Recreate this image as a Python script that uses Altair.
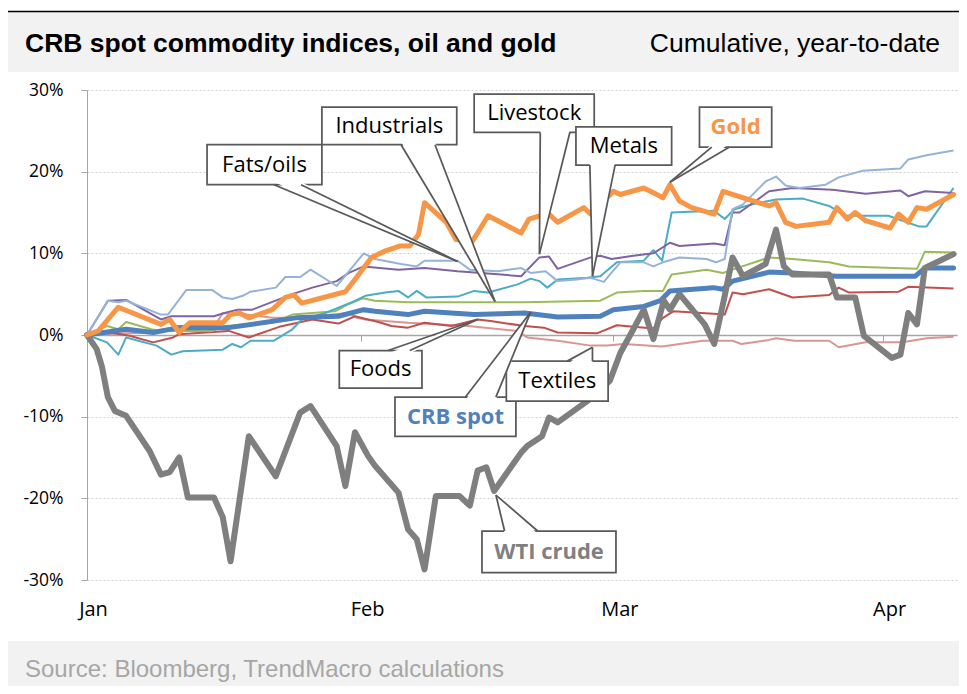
import altair as alt
import pandas as pd

# x = days since 31 Dec 2015, y = cumulative % change year-to-date
wti_day = [0, 1.1, 1.7, 2.4, 3.2, 4.5, 7.2, 8.5, 9.5, 10.6, 11.6, 14.6, 15.6, 16.5, 18.6, 21.7, 24.5, 25.7, 28.7, 29.7,
           30.8, 32.3, 33.1, 35.8, 36.9, 37.9, 38.8, 40.1, 42.8, 44.0, 44.9, 45.9, 46.8, 49.9, 50.6, 52.3, 53.1, 54.1,
           57.5, 60.1, 61.3, 62.8, 64.0, 65.1, 66.3, 67.0, 68.1, 71.0, 72.1, 73.3, 74.2, 75.4, 78.0, 79.2, 80.1, 81.1,
           85.3, 86.2, 88.3, 89.3, 92.5, 93.5, 94.4, 95.4, 96.3, 99.6]
wti_val = [0, -1.7, -3.8, -7.6, -9.3, -9.9, -14.2, -17.1, -16.8, -15.0, -19.9, -19.9, -22.3, -27.7, -12.4, -17.3, -9.5,
           -8.7, -13.6, -18.5, -11.9, -14.8, -16.0, -19.3, -23.8, -25.0, -28.7, -19.7, -19.7, -20.9, -16.6, -16.2,
           -19.1, -14.4, -13.6, -12.4, -10.1, -10.7, -8.1, -5.6, -2.2, 0.7, 3.1, -0.5, 4.2, 3.1, 5.0, 1.3, -1.1, 4.8,
           9.5, 7.2, 8.7, 12.9, 8.4, 7.4, 7.4, 4.6, 4.6, -0.1, -2.8, -2.4, 2.7, 1.3, 8.2, 9.9]

gold_day = [0, 1.3, 3.6, 8.5, 9.5, 10.6, 11.8, 15.6, 16.5, 17.5, 18.6, 21.3, 22.8, 23.8, 24.7, 29.7, 30.8, 32.7, 34.3,
            36.0, 37.1, 38.1, 38.8, 41.3, 42.4, 44.3, 44.9, 46.1, 49.9, 50.8, 52.0, 53.1, 54.1, 57.1, 57.9, 60.5, 61.3,
            64.0, 65.5, 66.2, 67.0, 68.1, 69.5, 72.1, 73.1, 78.4, 79.2, 80.3, 81.5, 85.3, 86.2, 87.4, 88.3, 89.5,
            92.3, 93.3, 94.4, 95.4, 96.5, 99.6]
gold_val = [0, 0.5, 3.4, 1.3, 1.9, 0.3, 1.5, 1.5, 2.5, 2.7, 2.1, 3.1, 4.6, 4.9, 3.9, 5.3, 6.8, 9.5, 10.3, 10.9, 10.9,
            12.3, 16.2, 13.8, 11.7, 11.5, 12.5, 14.6, 12.5, 14.2, 14.6, 14.8, 13.8, 15.6, 14.8, 17.6, 17.2, 18.0, 17.2,
            16.8, 18.4, 16.4, 15.6, 14.8, 17.6, 15.8, 16.2, 13.8, 13.3, 13.8, 15.6, 14.2, 15.0, 14.0, 13.1, 14.8,
            13.8, 15.6, 15.4, 17.2]

crb_day = [0, 4.5, 7.6, 10.6, 16.3, 24.0, 28.9, 31.8, 33.1, 36.9, 38.8, 44.5, 50.3, 54.1, 59.0, 60.5, 64.0, 65.9,
           67.0, 72.0, 73.1, 74.2, 78.4, 81.1, 86.1, 95.2, 96.3, 99.6]
crb_val = [0, 0.7, 0.3, 0.9, 0.9, 2.1, 2.3, 3.1, 2.9, 2.5, 2.9, 2.5, 2.7, 2.2, 2.3, 3.1, 3.5, 4.2, 5.4, 5.8, 5.6, 6.6,
           7.7, 7.6, 7.2, 7.2, 8.2, 8.2]

fats_day = [0, 2.4, 3.6, 4.5, 8.5, 9.3, 11.4, 14.4, 15.6, 16.7, 17.9, 18.8, 21.7, 22.8, 24.5, 25.7, 28.7, 30.1, 31.8,
            33.1, 36.1, 37.9, 38.8, 42.6, 44.0, 47.2, 49.9, 51.0, 52.7, 54.1, 56.3, 57.9, 59.4, 61.3, 64.0, 65.1,
            66.2, 68.1, 71.2, 72.3, 73.3, 74.2, 75.4, 78.0, 79.2, 80.3, 81.9, 84.9, 86.4, 89.1, 93.5, 94.4, 96.5, 99.6]
fats_val = [0, 4.2, 4.0, 4.2, 2.5, 2.5, 5.5, 5.5, 4.6, 4.4, 4.8, 5.3, 5.8, 7.1, 7.1, 8.0, 6.0, 7.8, 10.0, 9.3, 8.7,
            8.4, 9.1, 9.1, 8.0, 7.8, 8.2, 7.6, 7.8, 6.6, 6.8, 7.0, 6.5, 8.9, 8.9, 8.4, 8.9, 9.5, 9.3, 8.9, 9.3, 15.4,
            16.0, 18.8, 19.4, 18.3, 18.0, 18.4, 19.3, 20.1, 20.4, 21.5, 22.0, 22.6]

live_day = [0, 2.4, 4.5, 8.5, 9.7, 14.6, 15.8, 17.3, 19.0, 23.6, 25.9, 28.7, 30.1, 31.8, 35.8, 38.8, 42.6, 47.6,
            49.9, 52.0, 53.1, 54.1, 57.9, 59.0, 60.3, 62.8, 65.1, 67.0, 68.1, 72.1, 73.3, 74.2, 75.0, 78.4, 81.1,
            85.7, 89.5, 93.5, 94.4, 96.3, 99.6]
live_val = [0, 4.2, 4.3, 1.9, 2.3, 2.3, 2.7, 3.1, 3.1, 5.0, 5.8, 6.6, 7.6, 8.4, 8.0, 8.2, 7.8, 7.4, 7.2, 9.5, 9.6,
            8.1, 9.5, 9.7, 9.3, 9.7, 10.0, 11.3, 10.9, 11.2, 11.0, 15.0, 15.0, 17.6, 18.0, 17.8, 17.3, 17.7, 17.0,
            17.6, 17.4]

metals_day = [0, 2.3, 3.6, 4.5, 8.0, 9.7, 11.0, 15.6, 16.7, 17.7, 18.8, 21.5, 23.6, 24.7, 27.4, 30.4, 32.0, 34.3,
              35.8, 36.9, 37.9, 39.0, 42.6, 44.5, 46.1, 49.5, 51.0, 52.0, 52.9, 54.1, 57.5, 59.0, 60.9, 64.0, 65.1,
              66.1, 67.2, 72.1, 73.3, 74.4, 76.5, 79.2, 82.3, 85.3, 87.2, 92.1, 95.6, 96.5, 99.6]
metals_val = [0, -0.9, -2.4, -0.3, -1.3, -2.4, -2.0, -1.8, -1.1, -1.5, -0.7, -0.7, 0.7, 1.9, 2.7, 4.0, 4.8, 5.2,
              5.4, 4.6, 5.4, 4.6, 4.7, 5.4, 5.2, 6.2, 6.9, 6.6, 5.8, 6.8, 7.0, 7.2, 8.9, 9.1, 10.4, 9.1, 15.0, 15.2,
              14.2, 15.4, 16.0, 16.6, 16.7, 15.8, 14.6, 14.6, 13.3, 13.3, 18.0]

ind_day = [0, 2.3, 3.6, 4.5, 7.4, 8.5, 14.4, 16.0, 17.9, 21.3, 23.6, 25.9, 28.5, 30.1, 31.7, 33.1, 36.9, 43.8, 50.3,
           59.0, 60.9, 64.0, 66.2, 67.2, 71.2, 73.1, 74.2, 78.4, 81.1, 85.3, 87.6, 95.4, 96.3, 99.6]
ind_val = [0, 1.1, 0.7, 1.6, 0.7, 0.5, 0.5, 1.1, 1.3, 1.5, 2.5, 2.7, 2.9, 3.8, 4.5, 4.2, 4.0, 4.0, 4.0, 4.2, 5.2, 5.4,
           5.4, 7.4, 8.0, 7.6, 8.0, 9.5, 9.3, 8.9, 8.4, 8.1, 10.2, 10.1]

foods_day = [0, 2.6, 4.9, 7.6, 9.9, 10.6, 16.3, 18.6, 22.1, 25.9, 28.9, 30.8, 32.3, 33.5, 35.0, 36.9, 38.8, 41.9,
             44.9, 46.4, 50.3, 52.5, 54.1, 58.6, 60.9, 65.1, 66.2, 67.4, 72.0, 73.3, 74.2, 75.4, 78.4, 81.1, 85.3,
             86.4, 87.6, 93.3, 94.4, 99.6]
foods_val = [0, 0.3, -0.1, -0.9, -0.3, 0.1, 0.5, -0.3, 1.0, 1.9, 1.4, 2.3, 1.9, 1.6, 1.1, 0.9, 1.5, 1.1, 1.9, 1.7,
             1.1, 0.9, 0.3, 0.2, 1.2, 0.8, 2.1, 2.9, 2.6, 2.5, 5.2, 5.0, 5.6, 4.6, 4.9, 5.8, 5.2, 5.3, 5.9, 5.7]

tex_day = [0, 4.5, 7.6, 10.6, 14.8, 15.6, 18.3, 21.3, 24.0, 30.1, 31.0, 32.0, 36.9, 43.8, 49.5, 50.6, 54.1, 57.9,
           59.8, 61.7, 66.1, 70.8, 74.2, 75.2, 78.4, 79.2, 81.3, 85.3, 86.4, 89.5, 93.7, 96.5, 99.6]
tex_val = [0, 0.2, 0.3, 1.1, 1.3, 2.7, 2.5, 2.1, 2.1, 2.7, 2.1, 1.9, 1.5, 1.1, 0.5, -0.3, -0.7, -1.3, -1.3, -1.1,
           -1.4, -0.7, -0.7, -1.1, -0.6, -0.4, -0.7, -0.7, -1.5, -0.9, -0.9, -0.4, -0.2]

series_names = ["Textiles", "Foods", "Industrials", "Metals", "Livestock", "Fats/oils", "CRB spot", "WTI crude", "Gold"]
series_colors = ["#d99694", "#c0504d", "#9bbb59", "#4bacc6", "#8064a2", "#95b3d7", "#4f81bd", "#7f7f7f", "#f79646"]
series_data = [(tex_day, tex_val), (foods_day, foods_val), (ind_day, ind_val), (metals_day, metals_val),
               (live_day, live_val), (fats_day, fats_val), (crb_day, crb_val), (wti_day, wti_val),
               (gold_day, gold_val)]

month_ticks = [0, 31.5, 60.5, 91.5]
y_ticks = [-30, -20, -10, 0, 10, 20, 30]

# callout annotations: box corners, wedge base and tip (in data units)
call_names = ["Fats/oils", "Industrials", "Livestock", "Metals", "Gold", "Foods", "CRB spot", "Textiles", "WTI crude"]
box_x1 = [13.8, 27.0, 44.5, 56.2, 70.4, 29.0, 35.4, 48.2, 45.4]
box_x2 = [27.0, 42.5, 58.3, 67.2, 78.7, 38.5, 49.3, 59.9, 60.8]
box_top = [23.3, 27.9, 29.5, 25.5, 27.9, -1.9, -7.6, -3.2, -24.0]
box_bot = [18.4, 23.3, 24.8, 20.8, 23.0, -6.5, -12.4, -8.1, -29.1]
wedge_base = [18.4, 23.3, 24.8, 20.8, 23.0, -1.9, -7.6, -3.2, -24.0]
wedge_b1 = [21.5, 36.1, 52.1, 57.8, 71.8, 34.6, 43.5, 55.2, 48.0]
wedge_b2 = [24.6, 40.0, 55.5, 60.7, 73.8, 37.1, 47.0, 58.1, 51.8]
tip_x = [42.6, 46.9, 52.0, 58.1, 67.0, 44.9, 51.0, 58.1, 47.0]
tip_y = [9.0, 4.1, 9.9, 7.2, 18.7, 1.9, 2.8, -1.5, -19.6]
bold_colors = {"Gold": "#f79646", "CRB spot": "#4f81bd", "WTI crude": "#808080"}

# ---------- tables ----------
rows = []
for name, (d, v) in zip(series_names, series_data):
    for di, vi in zip(d, v):
        rows.append({"series": name, "day": di, "value": vi})
df = pd.DataFrame(rows)

box_df = pd.DataFrame({"name": call_names, "x1": box_x1, "x2": box_x2, "y1": box_top, "y2": box_bot})
box_df["cx"] = (box_df["x1"] + box_df["x2"]) / 2
box_df["cy"] = (box_df["y1"] + box_df["y2"]) / 2

area_rows, rule_rows = [], []
for i, n in enumerate(call_names):
    inset = 0.35 if tip_y[i] < wedge_base[i] else -0.35
    area_rows.append({"name": n, "wy": wedge_base[i] + inset, "wx": wedge_b1[i], "wx2": wedge_b2[i]})
    area_rows.append({"name": n, "wy": tip_y[i], "wx": tip_x[i], "wx2": tip_x[i]})
    for b in (wedge_b1[i], wedge_b2[i]):
        rule_rows.append({"name": n, "rx": b, "ry": wedge_base[i], "rx2": tip_x[i], "ry2": tip_y[i]})
area_df = pd.DataFrame(area_rows)
rule_df = pd.DataFrame(rule_rows)

W, H = 870, 490
xscale = alt.Scale(domain=[0, 100], nice=False, zero=False)
yscale = alt.Scale(domain=[-30, 30], nice=False)
cscale = alt.Scale(domain=series_names, range=series_colors)

x_axis = alt.Axis(values=month_ticks, title=None, grid=False, offset=-245, domain=True, domainColor="#a6a6a6",
                  domainWidth=1.5, ticks=True, tickColor="#a6a6a6", tickSize=6, tickWidth=1,
                  labelExpr="datum.value < 16 ? 'Jan' : datum.value < 46 ? 'Feb' : datum.value < 76 ? 'Mar' : 'Apr'",
                  labelFont="Open Sans", labelFontSize=20, labelColor="#000000", labelBaseline="alphabetic",
                  labelPadding=274, labelOffset=6, labelFlush=False, labelOverlap=False)
y_axis = alt.Axis(values=y_ticks, title=None, grid=True, gridColor="#d0d0d0", gridDash=[2, 2], gridWidth=1,
                  domain=True, domainColor="#a6a6a6", domainWidth=1, ticks=True, tickColor="#a6a6a6", tickSize=6,
                  labelExpr="datum.value + '%'", labelFont="Open Sans", labelFontSize=17.5, labelColor="#000000",
                  labelPadding=18)


def X(field, **kw):
    return alt.X(field, scale=xscale, axis=x_axis, **kw)


def Y(field):
    return alt.Y(field, scale=yscale, axis=y_axis)


base = alt.Chart(df)
thin = base.transform_filter(
    alt.FieldOneOfPredicate(field="series", oneOf=series_names[:6])
).mark_line(strokeWidth=2, strokeJoin="round").encode(
    x=X("day:Q"), y=Y("value:Q"),
    color=alt.Color("series:N", scale=cscale, legend=None),
)
thick_layers = []
for name, w in [("CRB spot", 5), ("WTI crude", 6), ("Gold", 5)]:
    thick_layers.append(
        base.transform_filter(alt.datum.series == name).mark_line(
            strokeWidth=w, strokeJoin="round", strokeCap="round").encode(
            x=X("day:Q"), y=Y("value:Q"),
            color=alt.Color("series:N", scale=cscale, legend=None),
        )
    )

boxes = alt.Chart(box_df).mark_rect(fill="white", stroke="#595959", strokeWidth=1.75).encode(
    x=X("x1:Q"), x2="x2:Q", y=Y("y1:Q"), y2="y2:Q",
)
wedges = alt.Chart(area_df).mark_area(orient="horizontal", fill="white", opacity=1).encode(
    y=Y("wy:Q"), x=X("wx:Q", stack=False), x2="wx2:Q", detail="name:N",
)
wedge_lines = alt.Chart(rule_df).mark_rule(color="#595959", strokeWidth=1.75).encode(
    x=X("rx:Q"), x2="rx2:Q", y=Y("ry:Q"), y2="ry2:Q",
)
normal_txt = alt.Chart(box_df).transform_filter(
    alt.FieldOneOfPredicate(field="name", oneOf=[n for n in call_names if n not in bold_colors])
).mark_text(font="Open Sans", fontSize=22, color="#000000", align="center", baseline="middle").encode(
    x=X("cx:Q"), y=Y("cy:Q"), text="name:N")
bold_txt = []
for n, c in bold_colors.items():
    bold_txt.append(alt.Chart(box_df).transform_filter(alt.datum.name == n).mark_text(
        font="Open Sans", fontSize=22, fontWeight="bold", color=c, align="center", baseline="middle").encode(
        x=X("cx:Q"), y=Y("cy:Q"), text="name:N"))

# page decoration (title band, source band)
one = pd.DataFrame({"k": [0]})
top_band = alt.Chart(one).mark_rect(color="#f2f2f2").encode(
    x=alt.value(-79), x2=alt.value(872), y=alt.value(-78), y2=alt.value(-18))
top_line = alt.Chart(one).mark_rule(color="#000000", strokeWidth=1.5).encode(
    x=alt.value(-79), x2=alt.value(872), y=alt.value(-78.5))
bot_band = alt.Chart(one).mark_rect(color="#f2f2f2").encode(
    x=alt.value(-79), x2=alt.value(872), y=alt.value(551), y2=alt.value(596))
title = alt.Chart(one).mark_text(text="CRB spot commodity indices, oil and gold", font="Liberation Sans",
                                 fontSize=26.5, fontWeight="bold", color="#000000", align="left",
                                 baseline="alphabetic").encode(x=alt.value(-62), y=alt.value(-38))
subtitle = alt.Chart(one).mark_text(text="Cumulative, year-to-date", font="Liberation Sans", fontSize=26.5,
                                    color="#000000", align="right", baseline="alphabetic").encode(
    x=alt.value(853), y=alt.value(-38))
source = alt.Chart(one).mark_text(text="Source: Bloomberg, TrendMacro calculations", font="Liberation Sans",
                                  fontSize=24, color="#a6a6a6", align="left", baseline="alphabetic").encode(
    x=alt.value(-62), y=alt.value(587))

chart = alt.layer(
    top_band, top_line, bot_band, thin, *thick_layers, boxes, wedges, wedge_lines, normal_txt, *bold_txt,
    title, subtitle, source
).properties(
    width=W, height=H,
    padding={"left": 79, "top": 82, "right": 2, "bottom": 106},
    autosize=alt.AutoSizeParams(type="none"),
    background="white",
).configure_view(stroke=None)

chart.save("out.html", embed_options={"renderer": "svg", "actions": False})
